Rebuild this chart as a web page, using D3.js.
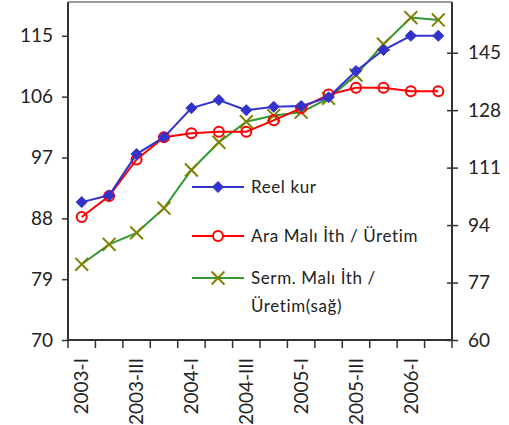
<!DOCTYPE html>
<html>
<head>
<meta charset="utf-8">
<script src="https://cdn.jsdelivr.net/npm/d3@7"></script>
<style>
  html, body { margin: 0; padding: 0; background: #fff; }
  svg { display: block; font-family: Lato, "Open Sans", sans-serif; }
</style>
</head>
<body>
<svg id="chart" width="509" height="425"></svg>
<script>
// Quarterly periods
const quarters = ["2003-I","2003-II","2003-III","2003-IV",
                  "2004-I","2004-II","2004-III","2004-IV",
                  "2005-I","2005-II","2005-III","2005-IV",
                  "2006-I","2006-II"];
// Left axis series
const reelKur = [90.4, 91.4, 97.5, 100.0, 104.3, 105.5, 104.0, 104.5, 104.6, 105.9, 109.8, 112.9, 115.0, 115.0];
const araMali = [88.2, 91.3, 96.7, 100.0, 100.6, 100.8, 100.8, 102.5, 104.3, 106.3, 107.3, 107.3, 106.8, 106.8];
// Right axis series
const sermMali = [82.4, 88.3, 91.7, 99.0, 110.3, 118.5, 124.6, 126.4, 127.4, 131.5, 138.4, 147.5, 155.4, 154.7];

const leftTicks = [70, 79, 88, 97, 106, 115];
const rightTicks = [60, 77, 94, 111, 128, 145];
const legendLabels = [["Reel kur"], ["Ara Malı İth / Üretim"], ["Serm. Malı İth /", "Üretim(sağ)"]];

const svg = d3.select("#chart");
const m = { left: 68, right: 452, top: 2, bottom: 340 };

const x = d3.scaleBand().domain(quarters).range([m.left, m.right]).padding(0);
const yL = d3.scaleLinear().domain([70, 120]).range([m.bottom, m.top]);
const yR = d3.scaleLinear().domain([60, 160]).range([m.bottom, m.top]);
const cx = d => x(d) + x.bandwidth() / 2;

// Frame: light top edge, dark axes
svg.append("line").attr("x1", m.left).attr("x2", m.right).attr("y1", m.top).attr("y2", m.top)
  .attr("stroke", "#9a9a9a").attr("stroke-width", 2);

// Left axis
const gL = svg.append("g").attr("transform", `translate(${m.left},0)`)
  .call(d3.axisLeft(yL).tickValues(leftTicks).tickSize(6).tickPadding(9));
// Right axis
const gR = svg.append("g").attr("transform", `translate(${m.right},0)`)
  .call(d3.axisRight(yR).tickValues(rightTicks).tickSize(6).tickPadding(10));
gR.selectAll(".tick line").attr("x1", -5);
// Bottom axis: ticks at period boundaries, labels on every other period
const gB = svg.append("g").attr("transform", `translate(0,${m.bottom})`)
  .call(d3.axisBottom(x).tickSize(0).tickFormat((d, i) => i % 2 === 0 ? d : ""));
gB.selectAll(".tick text")
  .attr("transform", "rotate(-90)")
  .attr("text-anchor", "end")
  .attr("dy", "0.35em")
  .attr("x", -18).attr("y", 0);
const bounds = quarters.map(q => x(q)).concat([m.right]);
gB.selectAll(".bnd").data(bounds).enter().append("line")
  .attr("x1", d => d).attr("x2", d => d).attr("y1", 0).attr("y2", 8)
  .attr("stroke", "#333").attr("stroke-width", 1.5);

[gL, gR, gB].forEach(g => {
  g.select(".domain").attr("stroke", "#333").attr("stroke-width", 2);
  g.selectAll(".tick line").attr("stroke", "#333").attr("stroke-width", 1.5);
  g.selectAll("text").attr("font-family", "Lato, sans-serif").attr("font-size", 19).attr("fill", "#222");
});
gB.select(".domain").attr("d", `M${m.left},0H${m.right}`);
gL.select(".domain").attr("d", `M0,${m.bottom}V${m.top}`);
gR.select(".domain").attr("d", `M0,${m.bottom}V${m.top}`);

// Series lines
const lineL = d3.line().x((d, i) => cx(quarters[i])).y(d => yL(d));
const lineR = d3.line().x((d, i) => cx(quarters[i])).y(d => yR(d));

const diamond = d3.symbol().type(d3.symbolDiamond2).size(78);
const cross = d3.symbol().type(d3.symbolTimes).size(110);

const plot = svg.append("g");
plot.append("path").datum(sermMali).attr("d", lineR)
  .attr("fill", "none").attr("stroke", "#339933").attr("stroke-width", 2);
plot.selectAll(".xm").data(sermMali).enter().append("path")
  .attr("d", cross)
  .attr("transform", (d, i) => `translate(${cx(quarters[i])},${yR(d)})`)
  .attr("fill", "none").attr("stroke", "#808000").attr("stroke-width", 2);

plot.append("path").datum(araMali).attr("d", lineL)
  .attr("fill", "none").attr("stroke", "#ff0000").attr("stroke-width", 2);
plot.selectAll(".cm").data(araMali).enter().append("circle")
  .attr("cx", (d, i) => cx(quarters[i])).attr("cy", d => yL(d)).attr("r", 5)
  .attr("fill", "none").attr("stroke", "#ff0000").attr("stroke-width", 2);

plot.append("path").datum(reelKur).attr("d", lineL)
  .attr("fill", "none").attr("stroke", "#3333cc").attr("stroke-width", 2);
plot.selectAll(".dm").data(reelKur).enter().append("path")
  .attr("d", diamond)
  .attr("transform", (d, i) => `translate(${cx(quarters[i])},${yL(d)})`)
  .attr("fill", "#3333cc").attr("stroke", "#3333cc").attr("stroke-width", 1);

// Legend
const legY = [187, 236, 278];
const lg = svg.append("g");
const lx1 = 192, lx2 = 244, lmx = 218, ltx = 251;
legY.forEach((yy, k) => {
  const color = ["#3333cc", "#ff0000", "#339933"][k];
  lg.append("line").attr("x1", lx1).attr("x2", lx2).attr("y1", yy).attr("y2", yy)
    .attr("stroke", color).attr("stroke-width", 2);
  if (k === 0) {
    lg.append("path").attr("d", diamond).attr("transform", `translate(${lmx},${yy})`)
      .attr("fill", "#3333cc").attr("stroke", "#3333cc");
  } else if (k === 1) {
    lg.append("circle").attr("cx", lmx).attr("cy", yy).attr("r", 5)
      .attr("fill", "#fff").attr("stroke", "#ff0000").attr("stroke-width", 2);
  } else {
    lg.append("path").attr("d", cross).attr("transform", `translate(${lmx},${yy})`)
      .attr("fill", "none").attr("stroke", "#808000").attr("stroke-width", 2);
  }
  legendLabels[k].forEach((t, j) => {
    lg.append("text").attr("x", ltx).attr("y", yy + j * 28.5).attr("dy", "0.35em")
      .attr("font-size", 17).attr("letter-spacing", 0.6).attr("fill", "#222").text(t);
  });
});
</script>
</body>
</html>
